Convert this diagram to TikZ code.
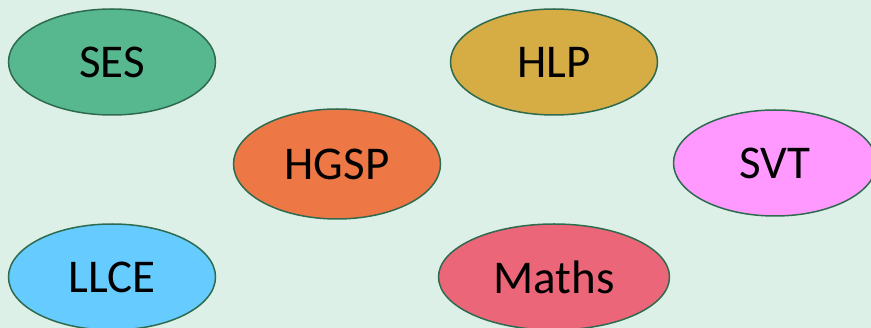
\documentclass[tikz,border=0pt]{standalone}
\usepackage{fontspec}
\setmainfont{Carlito}
\usetikzlibrary{shapes.geometric}
\definecolor{bg}{HTML}{DDF0E7}
\definecolor{edge}{HTML}{2E6B4E}
\definecolor{cses}{HTML}{57B88F}
\definecolor{chlp}{HTML}{D6AC45}
\definecolor{chgsp}{HTML}{ED7745}
\definecolor{csvt}{HTML}{FF99FF}
\definecolor{cllce}{HTML}{66CCFF}
\definecolor{cmaths}{HTML}{EB6678}
\tikzset{
  subj/.style={ellipse, draw=edge, line width=1.5pt, inner sep=0pt,
    minimum width=207pt, minimum height=106pt, font=\fontsize{47}{47}\selectfont, text=black}
}
\begin{document}
\begin{tikzpicture}[x=1pt,y=-1pt]
\fill[bg] (0,0) rectangle (871,328);
\useasboundingbox (0,0) rectangle (871,328);
\node[subj, fill=cses] (ses) at (112,62) {SES};
\node[subj, fill=chlp] (hlp) at (554,62) {HLP};
\node[subj, fill=chgsp, minimum height=110pt] (hgsp) at (337,164) {HGSP};
\node[subj, fill=csvt, minimum width=203pt] (svt) at (775,163) {SVT};
\node[subj, fill=cllce] (llce) at (112,277) {LLCE};
\node[subj, fill=cmaths, minimum width=231pt] (maths) at (554,277) {Maths};
\end{tikzpicture}
\end{document}
